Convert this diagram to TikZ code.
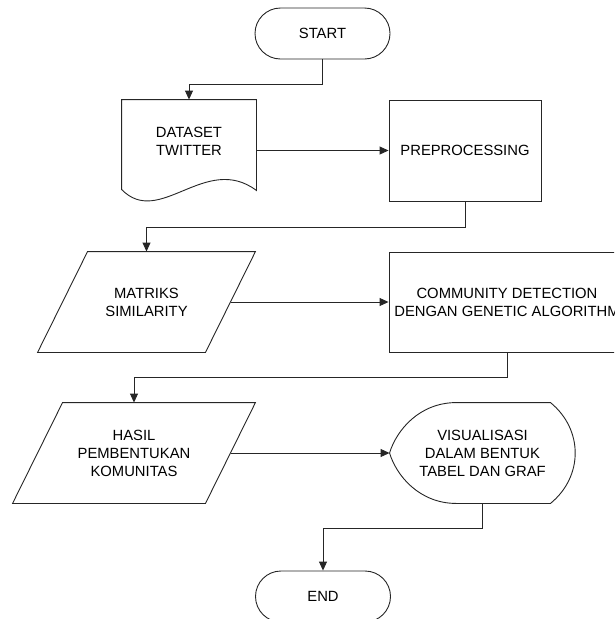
\documentclass[tikz,border=0pt]{standalone}
\usepackage{fontspec}
\setmainfont{Liberation Sans}
\usetikzlibrary{arrows.meta}
\begin{document}
\begin{tikzpicture}[x=1pt,y=-1pt,line width=0.9pt,draw=black!85,
  every node/.style={inner sep=0pt,align=center,font=\fontsize{14.8}{18}\selectfont},
  terminal/.style={draw,rounded corners=25.5pt,minimum width=135pt,minimum height=51pt},
  process/.style={draw,minimum height=101pt},
  flow/.style={-{Triangle[length=9pt,width=8pt]}}]
  \useasboundingbox (0,0) rectangle (614,619);
  \clip (0,0) rectangle (614,619);
  \node[terminal] (start) at (322.5,33.5) {START};
  \node[minimum width=134pt,minimum height=82pt] (data) at (189,141) {DATASET\\TWITTER};
  \node[process,minimum width=152pt] (pre) at (465,150.5) {PREPROCESSING};
  \node[minimum width=217pt,minimum height=100pt] (mat) at (146.5,302) {MATRIKS\\SIMILARITY};
  \node[process,minimum width=236pt,minimum height=100pt] (com) at (507,302)
    {COMMUNITY DETECTION\\DENGAN GENETIC ALGORITHM};
  \node[minimum width=242pt,minimum height=100pt] (has) at (134,453)
    {HASIL\\PEMBENTUKAN\\KOMUNITAS};
  \node[minimum width=185pt,minimum height=100pt] (vis) at (482.5,453)
    {VISUALISASI\\DALAM BENTUK\\TABEL DAN GRAF};
  \node[terminal] (stop) at (323,596.5) {END};
  % document
  \draw (data.north west) -- (data.north east) -- ([shift={(0,8)}]data.south east)
    .. controls +(-51,-38) and +(38,39) .. ([shift={(0,7)}]data.south west) -- cycle;
  % data
  \foreach \n in {mat,has}
    \draw ([shift={(50,0)}]\n.north west) -- (\n.north east)
      -- ([shift={(-50,0)}]\n.south east) -- (\n.south west) -- cycle;
  % display
  \draw (vis.west) .. controls +(7,-23) and +(-37,0) .. ([shift={(67,0)}]vis.north west)
    -- ([shift={(-25,0)}]vis.north east) .. controls +(33,27) and +(33,-27) .. ([shift={(-25,0)}]vis.south east)
    -- ([shift={(67,0)}]vis.south west) .. controls +(-37,0) and +(7,23) .. (vis.west) -- cycle;
  \draw[flow] (start.south) -- ++(0,25) -| (data.north);
  \draw[flow] (data.east |- pre.west) -- (pre.west);
  \draw[flow] (pre.south) -- ++(0,26) -| (mat.north);
  \draw[flow] ([shift={(-24.5,0)}]mat.east) -- (com.west);
  \draw[flow] (com.south) -- ++(0,25) -| (has.north);
  \draw[flow] ([shift={(-24.5,0)}]has.east) -- (vis.west);
  \draw[flow] (vis.south) -- ++(0,25) -| (stop.north);
\end{tikzpicture}
\end{document}
